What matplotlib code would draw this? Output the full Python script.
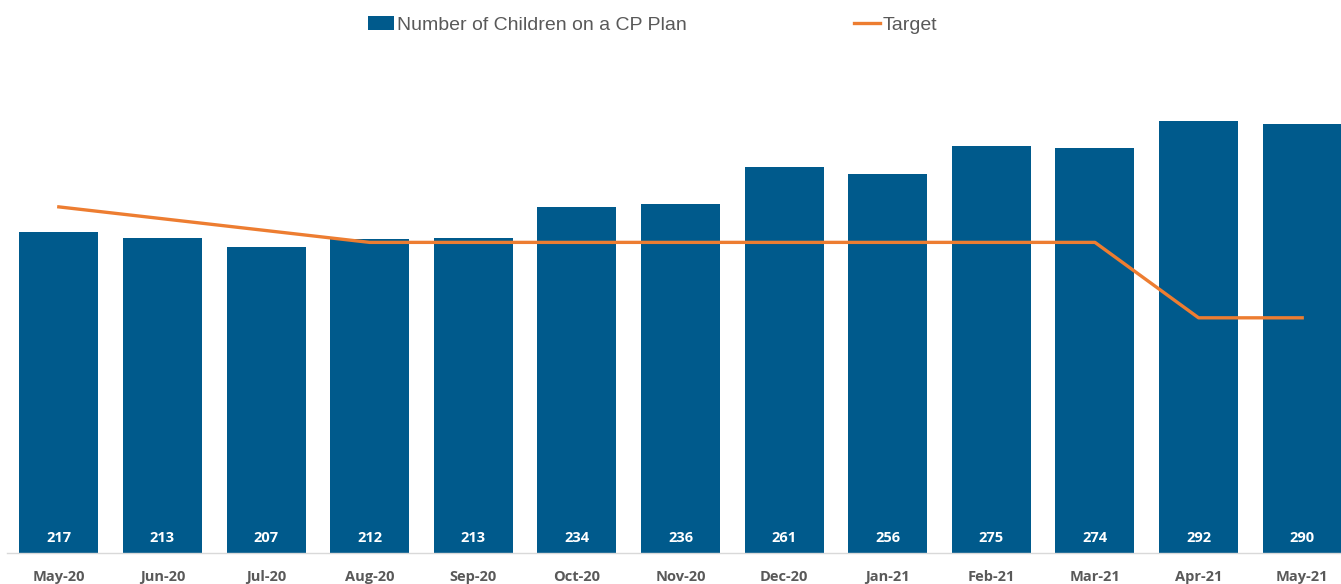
import matplotlib
matplotlib.use("Agg")
import matplotlib.pyplot as plt

# --- Data ---
months = ["May-20", "Jun-20", "Jul-20", "Aug-20", "Sep-20", "Oct-20", "Nov-20",
          "Dec-20", "Jan-21", "Feb-21", "Mar-21", "Apr-21", "May-21"]
children = [217, 213, 207, 212, 213, 234, 236, 261, 256, 275, 274, 292, 290]
target = [234, 226, 218, 210, 210, 210, 210, 210, 210, 210, 210, 159, 159]

BAR_COLOR = "#005A8C"
LINE_COLOR = "#ED7D31"
TEXT_COLOR = "#595959"

plt.rcParams["font.family"] = ["Liberation Sans", "DejaVu Sans"]

fig = plt.figure(figsize=(13.41, 5.84), dpi=100)
# axes runs a little past the right edge, as in the cropped reference
ax = fig.add_axes([7 / 1341, 31 / 584, 1347 / 1341, 517.7 / 584])

x = range(len(months))
bars = ax.bar(x, children, width=0.763, color=BAR_COLOR,
              label="Number of Children on a CP Plan", zorder=2)
line, = ax.plot(x, target, color=LINE_COLOR, linewidth=2.4, label="Target", zorder=3)

for xi, v in zip(x, children):
    ax.text(xi, 10, str(v), ha="center", va="center", color="white",
            fontsize=10.5, fontweight="bold", family=["Open Sans", "DejaVu Sans"])

ax.set_xlim(-0.5, len(months) - 0.5)
ax.set_ylim(0, 350)
ax.set_xticks(list(x))
ax.set_xticklabels(months, fontsize=10.5, fontweight="bold", color=TEXT_COLOR,
                   family=["Open Sans", "DejaVu Sans"])
ax.tick_params(axis="x", length=0, pad=12.5)
ax.set_yticks([])
for side in ["left", "right", "top"]:
    ax.spines[side].set_visible(False)
ax.spines["bottom"].set_color("#D9D9D9")
ax.spines["bottom"].set_linewidth(1.0)

fig.legend(handles=[bars, line], loc="center left",
           bbox_to_anchor=(350 / 1341, 1 - 25 / 584), ncol=2,
           frameon=False, fontsize=14, labelcolor=TEXT_COLOR,
           handlelength=1.35, handletextpad=0.15, columnspacing=8.6,
           handleheight=0.75)

fig.savefig("out.png", dpi=100)
